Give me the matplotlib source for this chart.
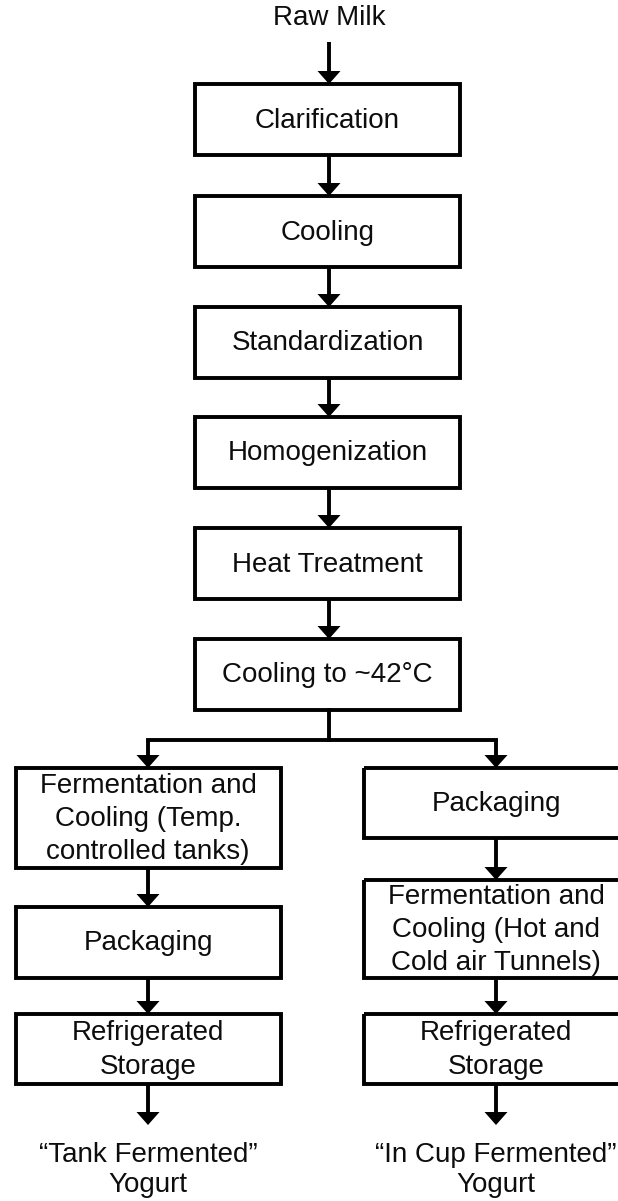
import matplotlib
matplotlib.use("Agg")
import matplotlib.pyplot as plt
from matplotlib.patches import Rectangle, Polygon

# ---- data: flowchart text ----
start_label = "Raw Milk"
main_steps = ["Clarification", "Cooling", "Standardization", "Homogenization",
              "Heat Treatment", "Cooling to ~42°C"]
left_steps = ["Fermentation and\nCooling (Temp.\ncontrolled tanks)", "Packaging",
              "Refrigerated\nStorage"]
right_steps = ["Packaging", "Fermentation and\nCooling (Hot and\nCold air Tunnels)",
               "Refrigerated\nStorage"]
left_end = "\u201cTank Fermented\u201d\nYogurt"
right_end = "\u201cIn Cup Fermented\u201d\nYogurt"

# ---- layout (pixels) ----
W, H = 618, 1201
main_x0, main_x1 = 195, 460
main_cx = 329
main_tops = [84, 196, 307, 417, 528, 639]
main_h = 71
left_cx, right_cx = 148, 496
col_w = 265
left_boxes = [(768, 868), (907, 978), (1014, 1084)]
right_boxes = [(768, 838), (880, 978), (1014, 1084)]
branch_y = 740
end_tip = 1125

LW = 2.8
FS = 20
FONT = "Liberation Sans"
TXT = "#0d0d0d"

fig = plt.figure(figsize=(W / 100, H / 100), dpi=100)
ax = fig.add_axes([0, 0, 1, 1])
ax.set_xlim(0, W)
ax.set_ylim(H, 0)
ax.axis("off")


def box(x0, x1, y0, y1, label):
    ax.add_patch(Rectangle((x0, y0), x1 - x0, y1 - y0, fill=False,
                           edgecolor="black", linewidth=LW, joinstyle="miter"))
    ax.text((x0 + x1) / 2, (y0 + y1) / 2 + 1, label, ha="center", va="center",
            fontsize=FS, family=FONT, color=TXT, linespacing=1.36)


def arrow(x, y0, y1, head_w=23, head_l=13):
    ax.plot([x, x], [y0, y1 - head_l + 1], color="black", lw=LW,
            solid_capstyle="butt")
    ax.add_patch(Polygon([(x - head_w / 2, y1 - head_l), (x + head_w / 2, y1 - head_l),
                          (x, y1)], closed=True, color="black", lw=0))


# start
ax.text(main_cx, 18, start_label, ha="center", va="center", fontsize=FS,
        family=FONT, color=TXT)
arrow(main_cx, 42, main_tops[0])

for i, lab in enumerate(main_steps):
    top = main_tops[i]
    box(main_x0, main_x1, top, top + main_h, lab)
    if i + 1 < len(main_steps):
        arrow(main_cx, top + main_h, main_tops[i + 1])

# branch
last_bottom = main_tops[-1] + main_h
ax.plot([main_cx, main_cx], [last_bottom, branch_y], color="black", lw=LW,
        solid_capstyle="projecting")
ax.plot([left_cx, right_cx], [branch_y, branch_y], color="black", lw=LW,
        solid_capstyle="projecting", solid_joinstyle="miter")


def column(cx, boxes, labels, end_label):
    arrow(cx, branch_y, boxes[0][0])
    for j, (lab, (y0, y1)) in enumerate(zip(labels, boxes)):
        box(cx - col_w / 2, cx + col_w / 2, y0, y1, lab)
        if j + 1 < len(boxes):
            arrow(cx, y1, boxes[j + 1][0])
    arrow(cx, boxes[-1][1], end_tip)
    ax.text(cx, 1170, end_label, ha="center", va="center", fontsize=FS,
            family=FONT, color=TXT, linespacing=1.2)


column(left_cx, left_boxes, left_steps, left_end)
column(right_cx, right_boxes, right_steps, right_end)

fig.savefig("out.png", dpi=100, facecolor="white")
